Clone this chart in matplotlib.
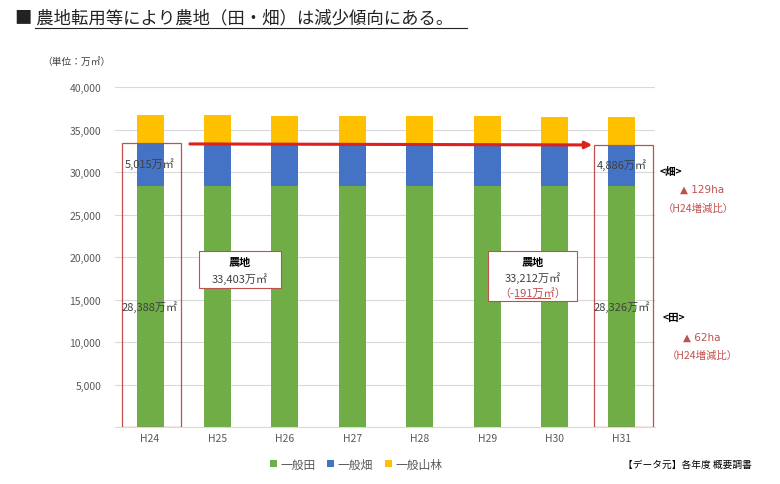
import matplotlib.pyplot as plt
import matplotlib.patches as mpatches
import numpy as np

plt.rcParams['font.family'] = ['Noto Sans CJK JP', 'DejaVu Sans']

# Data (万㎡)
years = ['H24', 'H25', 'H26', 'H27', 'H28', 'H29', 'H30', 'H31']
paddy = [28388, 28380, 28370, 28362, 28352, 28344, 28335, 28326]      # 一般田
field = [5015, 4995, 4975, 4955, 4935, 4915, 4900, 4886]              # 一般畑
forest = [3310, 3330, 3240, 3260, 3280, 3300, 3230, 3270]             # 一般山林
series_names = ['一般田', '一般畑', '一般山林']
colors = ['#70AD47', '#4472C4', '#FFC000']

W, H = 780, 485
fig = plt.figure(figsize=(W / 100, H / 100), dpi=100)


def fx(px):
    return px / W


def fy(py):
    return 1 - py / H


ax = fig.add_axes([fx(115), fy(428), fx(655) - fx(115), fy(88) - fy(428)])

x = np.arange(len(years))
paddy = np.array(paddy)
field = np.array(field)
forest = np.array(forest)
farmland = paddy + field

bw = 0.4
ax.bar(x, paddy, bw, color=colors[0], label=series_names[0], zorder=3)
ax.bar(x, field, bw, bottom=paddy, color=colors[1], label=series_names[1], zorder=3)
ax.bar(x, forest, bw, bottom=farmland, color=colors[2], label=series_names[2], zorder=3)

ax.set_xlim(-0.52, 7.49)
ax.set_ylim(0, 40000)
ax.set_yticks(np.arange(5000, 40001, 5000))
ax.set_yticklabels([f'{v:,}' for v in range(5000, 40001, 5000)])
ax.set_xticks(x)
ax.set_xticklabels(years)
ax.tick_params(axis='both', length=0, labelsize=7.5, colors='#595959')
ax.tick_params(axis='x', pad=4)
ax.tick_params(axis='y', pad=10)
ax.grid(axis='y', color='#D9D9D9', linewidth=0.8, zorder=0)
for s in ['top', 'right', 'left']:
    ax.spines[s].set_visible(False)
ax.spines['bottom'].set_color('#D9D9D9')

# red boxes around first/last bars
for i in [0, len(years) - 1]:
    ax.add_patch(mpatches.Rectangle((i - 0.42, 0), 0.88, farmland[i], fill=False,
                                    edgecolor='#C0504D', linewidth=0.9, zorder=4))
    ax.text(i, paddy[i] + field[i] / 2 + 200, f'{field[i]:,}万㎡', ha='center', va='center',
            fontsize=8, color='#404040', zorder=5)
    ax.text(i, paddy[i] / 2, f'{paddy[i]:,}万㎡', ha='center', va='center',
            fontsize=8, color='#404040', zorder=5)

# trend arrow
ax.annotate('', xy=(6.6, farmland[-1] - 30), xytext=(0.55, farmland[0] - 100),
            arrowprops=dict(arrowstyle='-|>', color='#E0201B', lw=2.2, mutation_scale=10),
            zorder=6)

# annotation boxes
ax.add_patch(mpatches.Rectangle((0.72, 16300), 1.22, 4450, facecolor='white',
                                edgecolor='#C0504D', linewidth=0.8, zorder=5))
ax.text(1.33, 19450, '農地', ha='center', va='center', fontsize=8, fontweight='bold', zorder=6)
ax.text(1.33, 17500, f'{farmland[0]:,}万㎡', ha='center', va='center', fontsize=8,
        color='#404040', zorder=6)

ax.add_patch(mpatches.Rectangle((5.01, 14800), 1.32, 5950, facecolor='white',
                                edgecolor='#C0504D', linewidth=0.8, zorder=5))
ax.text(5.67, 19450, '農地', ha='center', va='center', fontsize=8, fontweight='bold', zorder=6)
ax.text(5.67, 17600, f'{farmland[-1]:,}万㎡', ha='center', va='center', fontsize=8,
        color='#404040', zorder=6)
diff = farmland[-1] - farmland[0]
ax.text(5.67, 15850, f'（{diff:,}万㎡）', ha='center', va='center', fontsize=8,
        color='#C0504D', zorder=6)
ax.plot([5.42, 5.93], [15150, 15150], color='#C0504D', lw=0.7, zorder=6)

# right-side notes
red = '#C0504D'
fig.text(fx(660), fy(172), '<畑>', fontsize=7.5, va='center', fontweight='bold')
fig.text(fx(680), fy(190), '▲ 129ha', fontsize=7.5, va='center', color=red,
         family=['DejaVu Sans'])
fig.text(fx(663), fy(209), '（H24増減比）', fontsize=7.5, va='center', color=red)
fig.text(fx(663), fy(318), '<田>', fontsize=7.5, va='center', fontweight='bold')
fig.text(fx(683), fy(338), '▲ 62ha', fontsize=7.5, va='center', color=red,
         family=['DejaVu Sans'])
fig.text(fx(667), fy(356), '（H24増減比）', fontsize=7.5, va='center', color=red)

# title and unit
fig.text(fx(15), fy(18), '■ 農地転用等により農地（田・畑）は減少傾向にある。',
         fontsize=12.5, va='center', color='#222222')
fig.add_artist(plt.Line2D([fx(35), fx(467)], [fy(29), fy(29)], color='#222222', lw=0.8))
fig.text(fx(42), fy(62), '（単位：万㎡）', fontsize=7, va='center', color='#404040')

# legend and source
ax.legend(loc='center', ncol=3, frameon=False,
          fontsize=8.5, handlelength=0.6, handleheight=0.6, handletextpad=0.3,
          columnspacing=1.0, labelcolor='#595959',
          bbox_to_anchor=(fx(356), fy(465)), bbox_transform=fig.transFigure)
fig.text(fx(752), fy(465), '【データ元】各年度 概要調書', fontsize=7, ha='right', va='center')

fig.savefig('out.png', dpi=100)
